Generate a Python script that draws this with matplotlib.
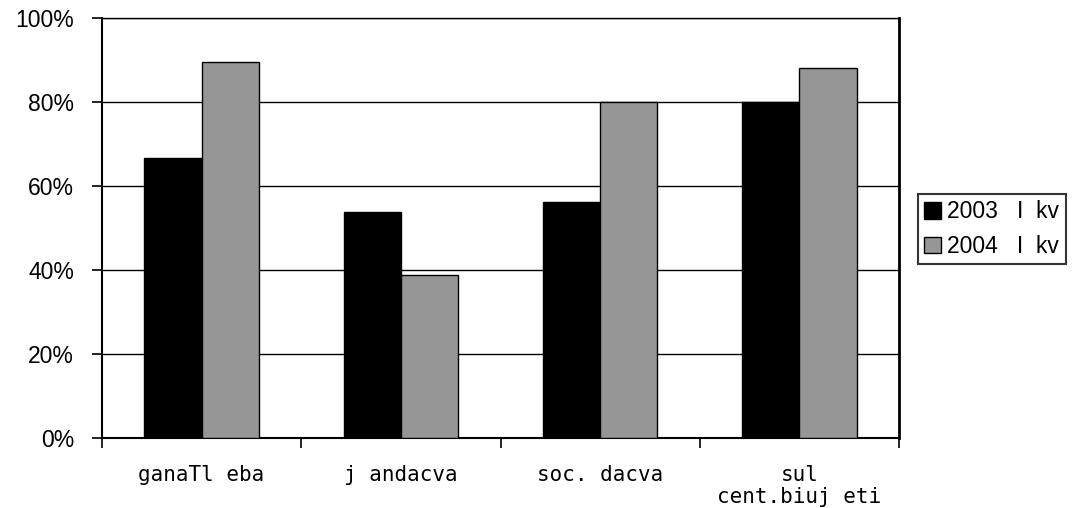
import numpy as np
import matplotlib
matplotlib.use("Agg")
import matplotlib.pyplot as plt
from matplotlib.ticker import FixedLocator

categories = ["ganaTl eba", "j andacva", "soc. dacva", "sul\ncent.biuj eti"]
series_names = ["2003   I  kv", "2004   I  kv"]
v2003 = [66.7, 53.9, 56.3, 80.0]
v2004 = [89.5, 39.0, 80.0, 88.1]
yticks = [0, 20, 40, 60, 80, 100]

plt.rcParams["font.family"] = ["Liberation Sans", "DejaVu Sans"]

fig = plt.figure(figsize=(10.75, 5.08), dpi=100)
ax = fig.add_axes([102 / 1075, 1 - 438.3 / 508, 797 / 1075, 420 / 508])

x = np.arange(len(categories))
w = 0.287
ax.bar(x - w / 2, v2003, w, color="black", edgecolor="black", lw=1.0,
       label=series_names[0], zorder=3)
ax.bar(x + w / 2, v2004, w, color="#969696", edgecolor="black", lw=1.0,
       label=series_names[1], zorder=3)

ax.set_xlim(-0.5, len(categories) - 0.5)
ax.set_ylim(0, 100)
ax.set_yticks(yticks)
ax.set_yticklabels([f"{t}%" for t in yticks], fontsize=16.5)
ax.yaxis.grid(True, color="black", lw=1.0, zorder=0)
ax.set_axisbelow(True)

# category boundaries get the ticks, names sit at the centres
ax.xaxis.set_major_locator(FixedLocator(np.arange(-0.5, len(categories), 1.0)))
ax.set_xticklabels([])
ax.set_xticks(x, minor=True)
ax.set_xticklabels(categories, minor=True, fontsize=15, linespacing=1.15,
                   va="top", family="DejaVu Sans Mono")
ax.tick_params(axis="x", which="minor", length=0, pad=19)
ax.tick_params(axis="x", which="major", length=7.2, width=1.2, direction="out")
ax.tick_params(axis="y", length=7.2, width=1.2, direction="out", pad=13)
for side, lw in [("left", 1.5), ("bottom", 1.5), ("top", 1.0), ("right", 2.0)]:
    ax.spines[side].set_linewidth(lw)
    ax.spines[side].set_color("black")

leg = fig.legend(loc="upper left", bbox_to_anchor=(918 / 1075, 1 - 194 / 508),
                 fontsize=16.5, frameon=True, fancybox=False, edgecolor="black",
                 handlelength=0.72, handleheight=0.72, handletextpad=0.28,
                 borderpad=0.28, labelspacing=0.5, borderaxespad=0)
leg.get_frame().set_linewidth(1.5)

fig.savefig("out.png", dpi=100)
